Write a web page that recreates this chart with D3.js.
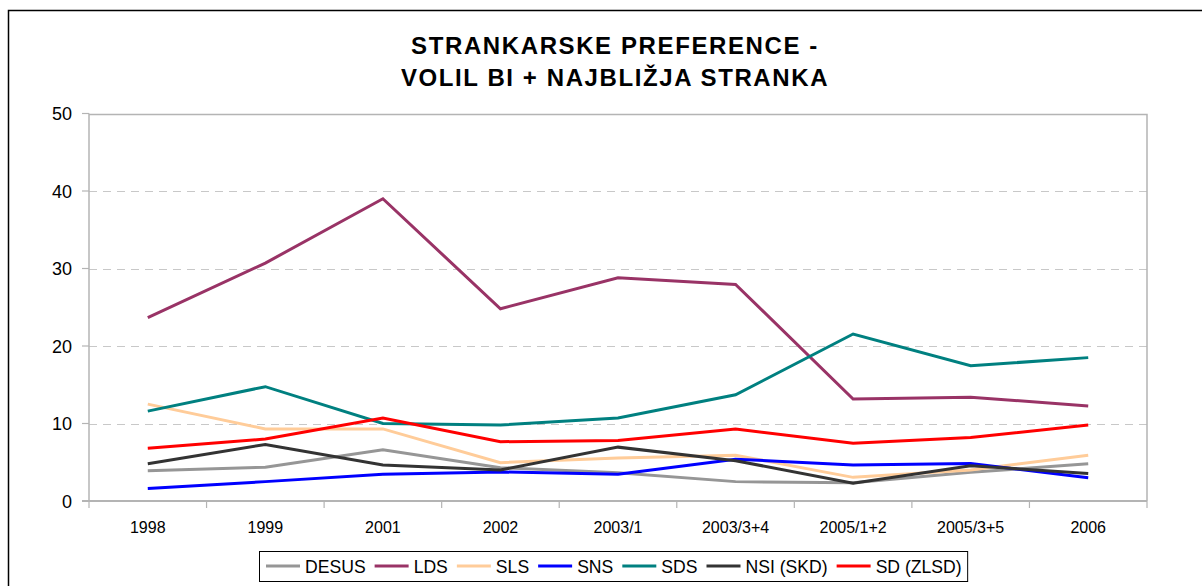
<!DOCTYPE html>
<html>
<head>
<meta charset="utf-8">
<script src="https://cdn.jsdelivr.net/npm/d3@7"></script>
<style>
  body { margin: 0; background: #fff; }
  svg { display: block; font-family: Arial, "Liberation Sans", sans-serif; }
</style>
</head>
<body>
<div id="container"></div>
<script>
const width = 1202;
const height = 586;
const margin = { top: 113.5, bottom: 85, left: 89, right: 55 };

const categories = ["1998", "1999", "2001", "2002", "2003/1", "2003/3+4", "2005/1+2", "2005/3+5", "2006"];
const yTicks = [0, 10, 20, 30, 40, 50];

const desus = [3.9, 4.35, 6.6, 4.3, 3.65, 2.5, 2.35, 3.7, 4.8];
const lds   = [23.65, 30.7, 39.0, 24.8, 28.8, 27.95, 13.15, 13.4, 12.25];
const sls   = [12.5, 9.3, 9.3, 4.95, 5.55, 5.9, 3.05, 4.0, 5.9];
const sns   = [1.6, 2.5, 3.45, 3.75, 3.45, 5.4, 4.65, 4.85, 3.0];
const sds   = [11.6, 14.75, 10.0, 9.8, 10.7, 13.7, 21.55, 17.45, 18.5];
const nsi   = [4.8, 7.3, 4.65, 4.0, 6.95, 5.2, 2.3, 4.55, 3.55];
const sd    = [6.8, 8.0, 10.7, 7.65, 7.8, 9.3, 7.45, 8.2, 9.8];

const seriesNames  = ["DESUS", "LDS", "SLS", "SNS", "SDS", "NSI (SKD)", "SD (ZLSD)"];
const seriesValues = [desus, lds, sls, sns, sds, nsi, sd];
const seriesColors = ["#969696", "#993366", "#ffcc99", "#0000ff", "#008080", "#333333", "#ff0000"];

const series = seriesNames.map((name, i) => ({ name, values: seriesValues[i], color: seriesColors[i] }));

const svg = d3.select("#container")
  .append("svg")
  .attr("width", width)
  .attr("height", height);

// outer chart frame (cut off at right/bottom)
svg.append("path")
  .attr("d", `M8.5,${height} V10.5 H${width}`)
  .attr("fill", "none")
  .attr("stroke", "#000")
  .attr("stroke-width", 1.5);

// title
const title = svg.append("text")
  .attr("text-anchor", "middle")
  .attr("font-weight", "bold")
  .attr("font-size", 24)
  .attr("letter-spacing", 1.6)
  .attr("fill", "#000");
title.append("tspan").attr("x", 615).attr("y", 54).text("STRANKARSKE PREFERENCE -");
title.append("tspan").attr("x", 615).attr("y", 86).text("VOLIL BI + NAJBLIŽJA STRANKA");

const xScale = d3.scaleBand()
  .domain(categories)
  .range([margin.left, width - margin.right]);

const yScale = d3.scaleLinear()
  .domain([0, 50])
  .range([height - margin.bottom, margin.top]);

const x0 = margin.left, x1 = width - margin.right;
const y0 = yScale(0), y1 = yScale(50);

// gridlines
svg.append("g")
  .selectAll("line")
  .data(yTicks.filter(d => d > 0 && d < 50))
  .join("line")
  .attr("x1", x0).attr("x2", x1)
  .attr("y1", d => Math.round(yScale(d)) + 0.5)
  .attr("y2", d => Math.round(yScale(d)) + 0.5)
  .attr("stroke", "#c8c8c8")
  .attr("stroke-width", 1)
  .attr("stroke-dasharray", "8,6");

// plot frame
svg.append("path")
  .attr("d", `M${x0},${Math.round(y1) + 0.5} H${x1} V${y0}`)
  .attr("fill", "none")
  .attr("stroke", "#b4b4b4")
  .attr("stroke-width", 1.5);

// y axis
const yAxis = svg.append("g");
yAxis.append("line")
  .attr("x1", x0).attr("x2", x0)
  .attr("y1", y1).attr("y2", y0)
  .attr("stroke", "#b4b4b4").attr("stroke-width", 1.5);
yAxis.selectAll("line.tick")
  .data(yTicks)
  .join("line")
  .attr("class", "tick")
  .attr("x1", x0 - 7).attr("x2", x0)
  .attr("y1", d => yScale(d)).attr("y2", d => yScale(d))
  .attr("stroke", "#b4b4b4").attr("stroke-width", 1.2);
yAxis.selectAll("text")
  .data(yTicks)
  .join("text")
  .attr("x", 72)
  .attr("y", d => yScale(d) + 6.5)
  .attr("text-anchor", "end")
  .attr("font-size", 18)
  .attr("fill", "#000")
  .text(d => d);

// x axis
const xAxis = svg.append("g");
xAxis.append("line")
  .attr("x1", x0 - 7).attr("x2", x1)
  .attr("y1", y0).attr("y2", y0)
  .attr("stroke", "#b4b4b4").attr("stroke-width", 2);
const boundaries = categories.map(c => xScale(c)).concat([x1]);
xAxis.selectAll("line.tick")
  .data(boundaries)
  .join("line")
  .attr("class", "tick")
  .attr("x1", d => d).attr("x2", d => d)
  .attr("y1", y0).attr("y2", y0 + 7)
  .attr("stroke", "#b4b4b4").attr("stroke-width", 1.2);
xAxis.selectAll("text")
  .data(categories)
  .join("text")
  .attr("x", d => xScale(d) + xScale.bandwidth() / 2)
  .attr("y", 533)
  .attr("text-anchor", "middle")
  .attr("font-size", 16)
  .attr("fill", "#000")
  .text(d => d);

// lines
const line = d3.line()
  .x((d, i) => xScale(categories[i]) + xScale.bandwidth() / 2)
  .y(d => yScale(d));

svg.append("g")
  .selectAll("path")
  .data(series)
  .join("path")
  .attr("d", d => line(d.values))
  .attr("fill", "none")
  .attr("stroke", d => d.color)
  .attr("stroke-width", 3)
  .attr("stroke-linejoin", "miter");

// legend
const legend = svg.append("g");
const legendBox = legend.append("rect")
  .attr("fill", "#fff")
  .attr("stroke", "#000")
  .attr("stroke-width", 1);

let lx = 266;
const ly = 566;
series.forEach(s => {
  legend.append("line")
    .attr("x1", lx).attr("x2", lx + 34)
    .attr("y1", ly).attr("y2", ly)
    .attr("stroke", s.color).attr("stroke-width", 3);
  const t = legend.append("text")
    .attr("x", lx + 39)
    .attr("y", ly + 6.5)
    .attr("font-size", 17.6)
    .attr("fill", "#000")
    .text(s.name);
  lx += 39 + t.node().getComputedTextLength() + 9;
});
legendBox
  .attr("x", 259.5).attr("y", 551.5)
  .attr("width", lx - 259.5 - 3).attr("height", 30);
</script>
</body>
</html>
